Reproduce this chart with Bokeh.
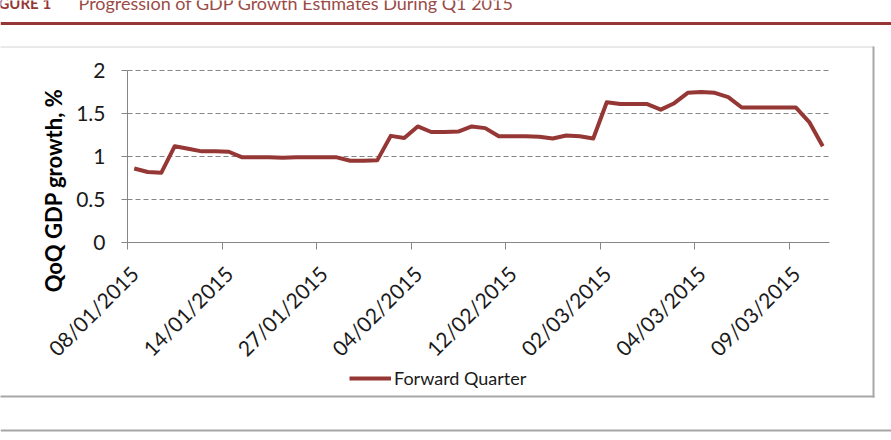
import numpy as np
from math import pi
from bokeh.plotting import figure
from bokeh.models import (Range1d, FixedTicker, LinearAxis, Legend, LegendItem,
                          ColumnDataSource)
from bokeh.core.properties import value
from bokeh.embed import file_html
from bokeh.resources import INLINE

# ---------------- data ----------------
gdp_growth = [0.86, 0.82, 0.81, 1.12, 1.09, 1.06, 1.06, 1.055, 0.99, 0.99,
              0.99, 0.985, 0.99, 0.99, 0.99, 0.99, 0.95, 0.95, 0.955, 1.24,
              1.215, 1.35, 1.285, 1.285, 1.29, 1.35, 1.33, 1.235, 1.235, 1.235,
              1.23, 1.21, 1.245, 1.235, 1.21, 1.63, 1.61, 1.61, 1.61, 1.545,
              1.62, 1.74, 1.75, 1.74, 1.69, 1.57, 1.57, 1.57, 1.57, 1.57,
              1.40, 1.12]
tick_index = [0, 7, 14, 21, 28, 35, 42, 49]
tick_labels = ["08/01/2015", "14/01/2015", "27/01/2015", "04/02/2015",
               "12/02/2015", "02/03/2015", "04/03/2015", "09/03/2015"]
y_ticks = [0, 0.5, 1, 1.5, 2]
y_tick_labels = ["0", "0.5", "1", "1.5", "2"]
series_name = "Forward Quarter"
y_title = "QoQ GDP growth, %"
fig_label = "FIGURE 1"
fig_title = "Progression of GDP Growth Estimates During Q1 2015"

# ---------------- style / page geometry (pixels) ----------------
FONT = "Lato"
RED = "#953735"
AXIS = "#868686"
TXT = "#1a1a1a"
W, H = 891, 440
PLOT_L, PLOT_R = 127, 829      # plot area, horizontal
PLOT_T, PLOT_B = 70, 242       # plot area, vertical (value 2 and value 0)

n = len(gdp_growth)
ppx = (PLOT_R - PLOT_L) / n                 # pixels per category
ppy = (PLOT_B - PLOT_T) / y_ticks[-1]       # pixels per unit of growth
x_start = -0.5 - PLOT_L / ppx
x_end = n - 0.5 + (W - PLOT_R) / ppx
y_start = -(H - PLOT_B) / ppy
y_end = PLOT_B / ppy

x = list(range(n))
src = ColumnDataSource(dict(x=x, y=gdp_growth))

p = figure(width=W, height=H, output_backend="svg", toolbar_location=None,
           title=None, x_range=Range1d(x_start, x_end),
           y_range=Range1d(y_start, y_end),
           min_border=0, min_border_left=0, min_border_right=0,
           min_border_top=0, min_border_bottom=0)
p.outline_line_color = None
p.background_fill_color = "white"
p.border_fill_color = "white"
# pixel coordinates (y down) for the page decorations
p.extra_x_ranges = {"px": Range1d(0, W)}
p.extra_y_ranges = {"py": Range1d(H, 0)}

# ---------------- grid ----------------
p.xgrid.visible = False
p.ygrid.ticker = FixedTicker(ticks=y_ticks[1:])
p.ygrid.cross_bounds = (-0.5, n - 0.5)
p.ygrid.grid_line_color = AXIS
p.ygrid.grid_line_dash = "5 3"
p.ygrid.grid_line_width = 1

# ---------------- y axis ----------------
yax = p.yaxis[0]
yax.fixed_location = -0.5
yax.ticker = FixedTicker(ticks=y_ticks)
yax.bounds = (0, 2)
yax.major_label_overrides = {v: s for v, s in zip(y_ticks, y_tick_labels)}
yax.axis_line_color = AXIS
yax.major_tick_line_color = AXIS
yax.major_tick_out = 6
yax.major_tick_in = 0
yax.minor_tick_out = 0
yax.minor_tick_in = 0
yax.major_label_standoff = 16
yax.major_label_text_font = FONT
yax.major_label_text_font_size = "21px"
yax.major_label_text_color = TXT

# ---------------- x axis: tick marks at category boundaries ----------------
boundaries = [i - 0.5 for i in tick_index]
xax = p.xaxis[0]
xax.fixed_location = 0
xax.bounds = (-0.5, n - 0.5)
xax.ticker = FixedTicker(ticks=boundaries)
xax.major_label_overrides = {b: "" for b in boundaries}
xax.major_label_text_font_size = "1px"
xax.major_label_standoff = 0
xax.axis_line_color = AXIS
xax.major_tick_line_color = AXIS
xax.major_tick_out = 7
xax.major_tick_in = 0
xax.minor_tick_out = 0
xax.minor_tick_in = 0

# ---------------- x axis: labels at category centres ----------------
lab_ax = LinearAxis(ticker=FixedTicker(ticks=tick_index), fixed_location=0,
                    major_label_overrides={i: s for i, s in zip(tick_index, tick_labels)},
                    major_label_orientation=pi / 4,
                    axis_line_color=None, major_tick_out=0, major_tick_in=0,
                    minor_tick_out=0, minor_tick_in=0, major_label_standoff=27,
                    major_label_text_font=FONT, major_label_text_font_size="21px",
                    major_label_text_color=TXT)
p.add_layout(lab_ax, "below")

# ---------------- series ----------------
r = p.line("x", "y", source=src, line_color=RED, line_width=4, line_join="round")

legend = Legend(items=[LegendItem(label=series_name, renderers=[r])],
                location=(349, 51), glyph_width=42, glyph_height=20,
                label_standoff=3, padding=0, margin=0, spacing=0,
                border_line_color=None, background_fill_alpha=0,
                label_text_font=FONT, label_text_font_size="18px",
                label_text_color=TXT, label_height=20)
p.add_layout(legend)

# ---------------- y-axis title ----------------
p.text(x=[53], y=[190], text=[y_title], angle=pi / 2, x_range_name="px",
       y_range_name="py", text_font=value(FONT), text_font_style=value("bold"),
       text_font_size=value("22px"), text_color="#000000",
       text_align="center", text_baseline="middle")

# ---------------- heading, rules and chart box ----------------
p.text(x=[-15], y=[2], text=[fig_label], x_range_name="px", y_range_name="py",
       text_font=value(FONT), text_font_style=value("bold"),
       text_font_size=value("15px"), text_color=RED,
       text_baseline="alphabetic", text_align="left")
p.text(x=[78], y=[2], text=[fig_title], x_range_name="px", y_range_name="py",
       text_font=value(FONT), text_font_size=value("18px"), text_color="#9b4b46",
       text_baseline="alphabetic", text_align="left")

deco_l = [0, -5, 872, -5, 0]
deco_r = [W, 873, 874, 874, W]
deco_t = [21.5, 46, 46, 395, 429]
deco_b = [24.5, 47, 397, 397, 431]
deco_c = [RED, "#d4d4d4", "#a8a8a8", "#a8a8a8", "#a6a6a6"]
p.quad(left=deco_l, right=deco_r, top=deco_t, bottom=deco_b, fill_color=deco_c,
       line_color=None, x_range_name="px", y_range_name="py")

open("out.html", "w").write(file_html(p, INLINE))
